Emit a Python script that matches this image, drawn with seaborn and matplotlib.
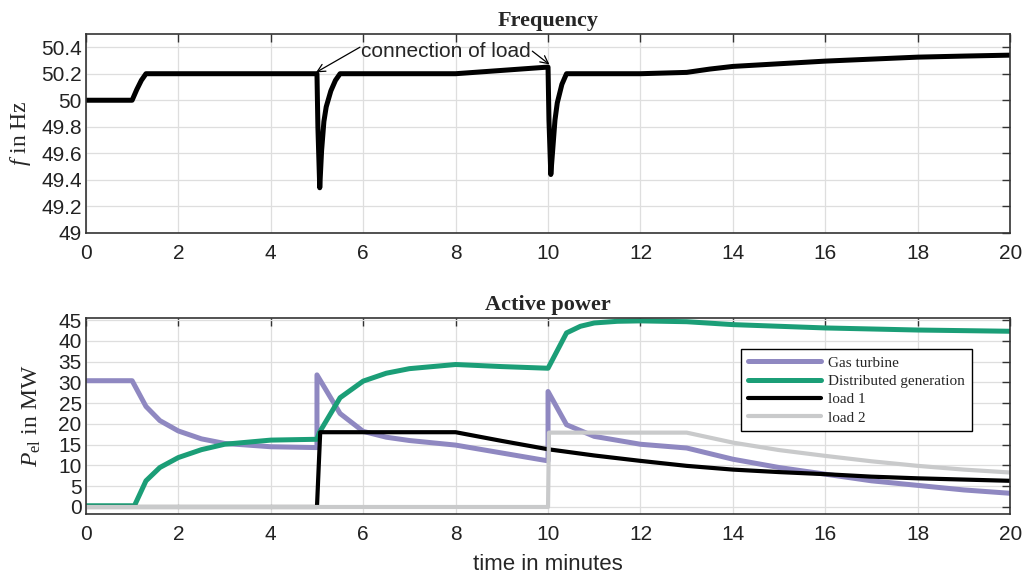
import numpy as np
import pandas as pd
import matplotlib
matplotlib.use("Agg")
import matplotlib.pyplot as plt
import seaborn as sns

# Frequency
t_freq = [0, 1.0, 1.1, 1.2, 1.3, 5.0, 5.02, 5.06, 5.1, 5.15, 5.2, 5.3, 5.4, 5.5,
          8.0, 9.0, 10.0, 10.02, 10.06, 10.1, 10.15, 10.2, 10.3, 10.4,
          12.0, 13.0, 13.5, 14.0, 15.0, 16.0, 17.0, 18.0, 19.0, 20.0]
freq = [50.0, 50.0, 50.08, 50.15, 50.2, 50.2, 49.8, 49.34, 49.62, 49.84, 49.95, 50.07, 50.15, 50.2,
        50.2, 50.225, 50.25, 49.85, 49.44, 49.62, 49.85, 49.98, 50.12, 50.2,
        50.2, 50.21, 50.235, 50.255, 50.275, 50.295, 50.31, 50.325, 50.333, 50.34]

# Active power
t_gas = [0, 1.0, 1.3, 1.6, 2.0, 2.5, 3.0, 4.0, 5.0, 5.0, 5.5, 6.0, 6.5, 7.0, 8.0, 9.0, 10.0,
         10.0, 10.4, 11.0, 12.0, 13.0, 14.0, 15.0, 16.0, 17.0, 18.0, 19.0, 20.0]
p_gas = [30.4, 30.4, 24.2, 20.8, 18.3, 16.4, 15.3, 14.5, 14.3, 31.8, 22.5, 18.2, 16.8, 16.0, 14.9, 13.0, 11.1,
         27.8, 19.8, 17.0, 15.1, 14.2, 11.5, 9.5, 7.9, 6.3, 5.2, 4.1, 3.3]

t_dg = [0, 1.05, 1.3, 1.6, 2.0, 2.5, 3.0, 4.0, 5.0, 5.05, 5.5, 6.0, 6.5, 7.0, 8.0, 9.0, 10.0,
        10.4, 10.7, 11.0, 11.5, 12.0, 13.0, 14.0, 16.0, 18.0, 20.0]
p_dg = [0.3, 0.3, 6.3, 9.5, 11.9, 13.8, 15.1, 16.1, 16.3, 17.9, 26.3, 30.3, 32.2, 33.3, 34.3, 33.8, 33.4,
        41.9, 43.5, 44.3, 44.7, 44.8, 44.6, 43.9, 43.1, 42.6, 42.3]

t_load1 = [0, 5.0, 5.07, 8.0, 9.0, 10.0, 11.0, 12.0, 13.0, 14.0, 15.0, 16.0, 17.0, 18.0, 19.0, 20.0]
p_load1 = [0, 0, 18.0, 18.0, 15.9, 13.9, 12.4, 11.1, 9.9, 9.0, 8.4, 7.9, 7.3, 6.9, 6.6, 6.3]

t_load2 = [0, 10.0, 10.02, 13.0, 14.0, 15.0, 16.0, 17.0, 18.0, 19.0, 20.0]
p_load2 = [0, 0, 17.9, 17.9, 15.5, 13.7, 12.3, 11.0, 9.9, 9.0, 8.3]

series = [
    ("Gas turbine", t_gas, p_gas, "#8f88c1", 3.6),
    ("Distributed generation", t_dg, p_dg, "#1b9e77", 3.6),
    ("load 1", t_load1, p_load1, "black", 3.0),
    ("load 2", t_load2, p_load2, "#c9cacb", 3.0),
]

sns.set_style("whitegrid")
plt.rcParams.update({
    "font.family": ["Liberation Sans", "DejaVu Sans"],
    "mathtext.fontset": "custom",
    "mathtext.rm": "Liberation Serif",
    "mathtext.it": "Liberation Serif:italic",
    "axes.edgecolor": "#333333",
    "grid.color": "#dedede",
    "grid.linewidth": 0.9,
})

fig = plt.figure(figsize=(10.35, 5.75), dpi=100)
ax1 = fig.add_axes([0.083, 0.595, 0.893, 0.346])
ax2 = fig.add_axes([0.083, 0.106, 0.893, 0.341])

serif = ["Liberation Serif", "DejaVu Serif"]

# Frequency panel
sns.lineplot(x=t_freq, y=freq, ax=ax1, color="black", lw=3.6,
             estimator=None, sort=False)
ax1.set_xlim(0, 20)
ax1.set_ylim(49, 50.5)
ax1.set_yticks([49, 49.2, 49.4, 49.6, 49.8, 50, 50.2, 50.4])
ax1.set_yticklabels(["49", "49.2", "49.4", "49.6", "49.8", "50", "50.2", "50.4"])
ax1.set_xticks(range(0, 21, 2))
ax1.set_title("Frequency", fontsize=16, fontweight="bold", family=serif, pad=6)
ax1.set_ylabel(r"$f$ in Hz", fontsize=17, family=serif)
ax1.yaxis.set_label_coords(-0.057, 0.5)

# "connection of load" note with two arrows
ax1.text(5.95, 50.365, "connection of load", fontsize=15, va="center", ha="left")
arrow = dict(arrowstyle="->", color="black", lw=0.9, shrinkA=0, shrinkB=0,
             mutation_scale=14)
ax1.annotate("", xy=(4.98, 50.21), xytext=(5.93, 50.40), arrowprops=arrow)
ax1.annotate("", xy=(10.03, 50.27), xytext=(9.66, 50.37), arrowprops=arrow)

# Active power panel
for name, t, p, col, lw in series:
    sns.lineplot(x=t, y=p, ax=ax2, color=col, lw=lw, label=name,
                 estimator=None, sort=False)
ax2.set_xlim(0, 20)
ax2.set_ylim(-1.7, 45.5)
ax2.set_yticks(range(0, 46, 5))
ax2.set_xticks(range(0, 21, 2))
ax2.set_title("Active power", fontsize=16, fontweight="bold", family=serif, pad=6)
ax2.set_ylabel(r"$P_{\rm el}$ in MW", fontsize=17, family=serif)
ax2.yaxis.set_label_coords(-0.046, 0.5)
ax2.set_xlabel("time in minutes", fontsize=16)
ax2.xaxis.set_label_coords(0.5, -0.205)

leg = ax2.legend(loc="upper right", bbox_to_anchor=(0.967, 0.88), fancybox=False,
                 frameon=True, edgecolor="black", framealpha=1, handlelength=4.8,
                 handletextpad=0.45, prop={"family": serif, "size": 11},
                 borderpad=0.45, labelspacing=0.3)
leg.get_frame().set_linewidth(1.0)

for ax in (ax1, ax2):
    ax.tick_params(direction="in", length=6, width=1, top=True, right=True,
                   labelsize=15, colors="#333333", labelcolor="#222222")
    ax.tick_params(axis="x", pad=8)
    ax.tick_params(axis="y", pad=3)
    for s in ax.spines.values():
        s.set_linewidth(1.2)
        s.set_visible(True)
    ax.grid(True)
    ax.set_axisbelow(True)

fig.savefig("out.png", dpi=100)
